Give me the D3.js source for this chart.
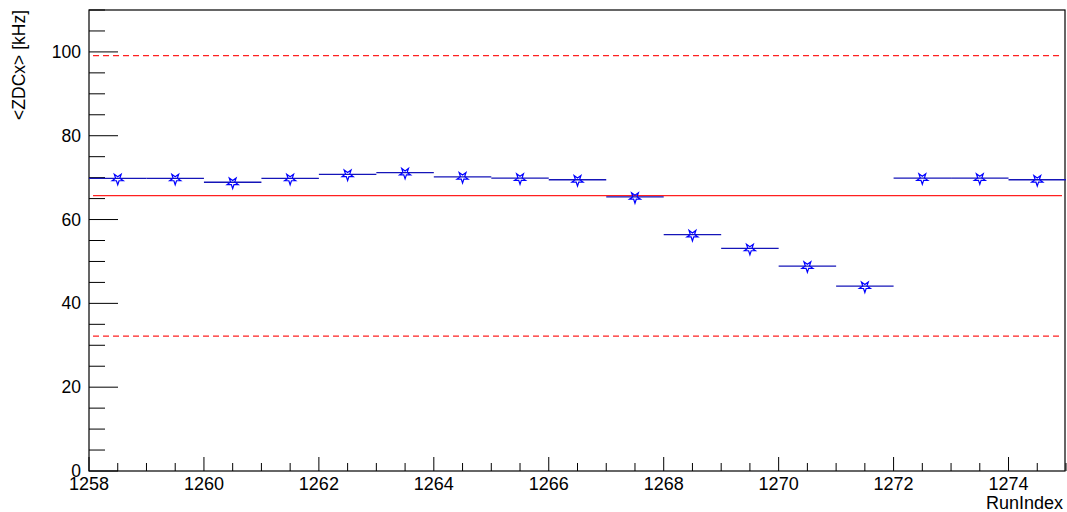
<!DOCTYPE html>
<html>
<head>
<meta charset="utf-8">
<script src="https://cdn.jsdelivr.net/npm/d3@7"></script>
<style>
  html, body { margin: 0; padding: 0; background: #fff; }
  svg { display: block; font-family: "Liberation Sans", Arial, Helvetica, sans-serif; }
</style>
</head>
<body>
<svg id="chart" width="1067" height="512"></svg>
<script>
// Mean ZDC coincidence rate per run (bins of width 1 starting at 1258)
const binEdges = [1258, 1259, 1260, 1261, 1262, 1263, 1264, 1265, 1266, 1267,
                  1268, 1269, 1270, 1271, 1272, 1273, 1274, 1275];
const zdcRate = [69.8, 69.8, 68.9, 69.8, 70.8, 71.2, 70.2, 69.9, 69.5,
                 65.4, 56.4, 53.1, 48.9, 44.1, 69.9, 69.9, 69.5];
// Reference mean and acceptance band
const meanRate = 65.7;
const bandUpper = 99.1;
const bandLower = 32.2;
const xTickValues = [1258, 1260, 1262, 1264, 1266, 1268, 1270, 1272, 1274];
const yTickValues = [0, 20, 40, 60, 80, 100];

(function draw() {
  const svg = d3.select("#chart");
  const padL = 89, padR = 1066, padT = 10, padB = 471;
  const fs = 17.5;

  const x = d3.scaleLinear().domain([1258, 1275]).range([padL, padR]);
  const y = d3.scaleLinear().domain([0, 110]).range([padB, padT]);

  // frame
  svg.append("rect")
    .attr("x", padL).attr("y", padT)
    .attr("width", padR - padL - 1).attr("height", padB - padT)
    .attr("fill", "none").attr("stroke", "#000").attr("stroke-width", 1.2);

  // x axis ticks (major every 2, minor every 0.5)
  const xMinor = d3.range(1258, 1275.001, 0.5);
  svg.append("g").selectAll("line").data(xMinor).join("line")
    .attr("x1", d => x(d)).attr("x2", d => x(d))
    .attr("y1", padB)
    .attr("y2", d => (Math.abs(d % 2) < 1e-9) ? padB - 14 : padB - 8)
    .attr("stroke", "#000").attr("stroke-width", 1);

  svg.append("g").selectAll("text").data(xTickValues).join("text")
    .attr("x", d => x(d)).attr("y", 490)
    .attr("text-anchor", "middle")
    .attr("font-size", 18)
    .text(d => d);

  // y axis ticks (major every 20, minor every 5)
  const yMinor = d3.range(0, 110.001, 5);
  svg.append("g").selectAll("line").data(yMinor).join("line")
    .attr("x1", padL)
    .attr("x2", d => (d % 20 === 0) ? padL + 29 : padL + 16)
    .attr("y1", d => y(d)).attr("y2", d => y(d))
    .attr("stroke", "#000").attr("stroke-width", 1);

  svg.append("g").selectAll("text").data(yTickValues).join("text")
    .attr("x", 81)
    .attr("y", d => y(d) + 6)
    .attr("text-anchor", "end")
    .attr("font-size", fs)
    .text(d => d);

  // axis titles
  svg.append("text")
    .attr("x", 1063).attr("y", 509)
    .attr("text-anchor", "end")
    .attr("font-size", 18)
    .text("RunIndex");

  svg.append("text")
    .attr("transform", `translate(25, ${padT}) rotate(-90)`)
    .attr("text-anchor", "end")
    .attr("font-size", fs)
    .text("<ZDCx> [kHz]");

  // reference lines
  const lineX0 = x(1258.07), lineX1 = x(1274.93);
  svg.append("line")
    .attr("x1", lineX0).attr("x2", lineX1)
    .attr("y1", y(meanRate)).attr("y2", y(meanRate))
    .attr("stroke", "#ff2020").attr("stroke-width", 1.3);

  [bandUpper, bandLower].forEach(v => {
    svg.append("line")
      .attr("x1", lineX0).attr("x2", lineX1)
      .attr("y1", y(v)).attr("y2", y(v))
      .attr("stroke", "#ff2020").attr("stroke-width", 1.3)
      .attr("stroke-dasharray", "6,4");
  });

  // per-run bins
  const bins = zdcRate.map((v, i) => ({ lo: binEdges[i], hi: binEdges[i + 1], v }));

  svg.append("g").selectAll("line").data(bins).join("line")
    .attr("x1", d => x(d.lo)).attr("x2", d => x(d.hi))
    .attr("y1", d => y(d.v)).attr("y2", d => y(d.v))
    .attr("stroke", "#1515b8").attr("stroke-width", 1.3);

  const star = d3.symbol().type(d3.symbolStar).size(38);
  svg.append("g").selectAll("path").data(bins).join("path")
    .attr("d", star)
    .attr("transform", d => `translate(${x((d.lo + d.hi) / 2)}, ${y(d.v) + 0.5}) rotate(180)`)
    .attr("fill", "none")
    .attr("stroke", "#0000ff")
    .attr("stroke-width", 1.2);
})();
</script>
</body>
</html>
